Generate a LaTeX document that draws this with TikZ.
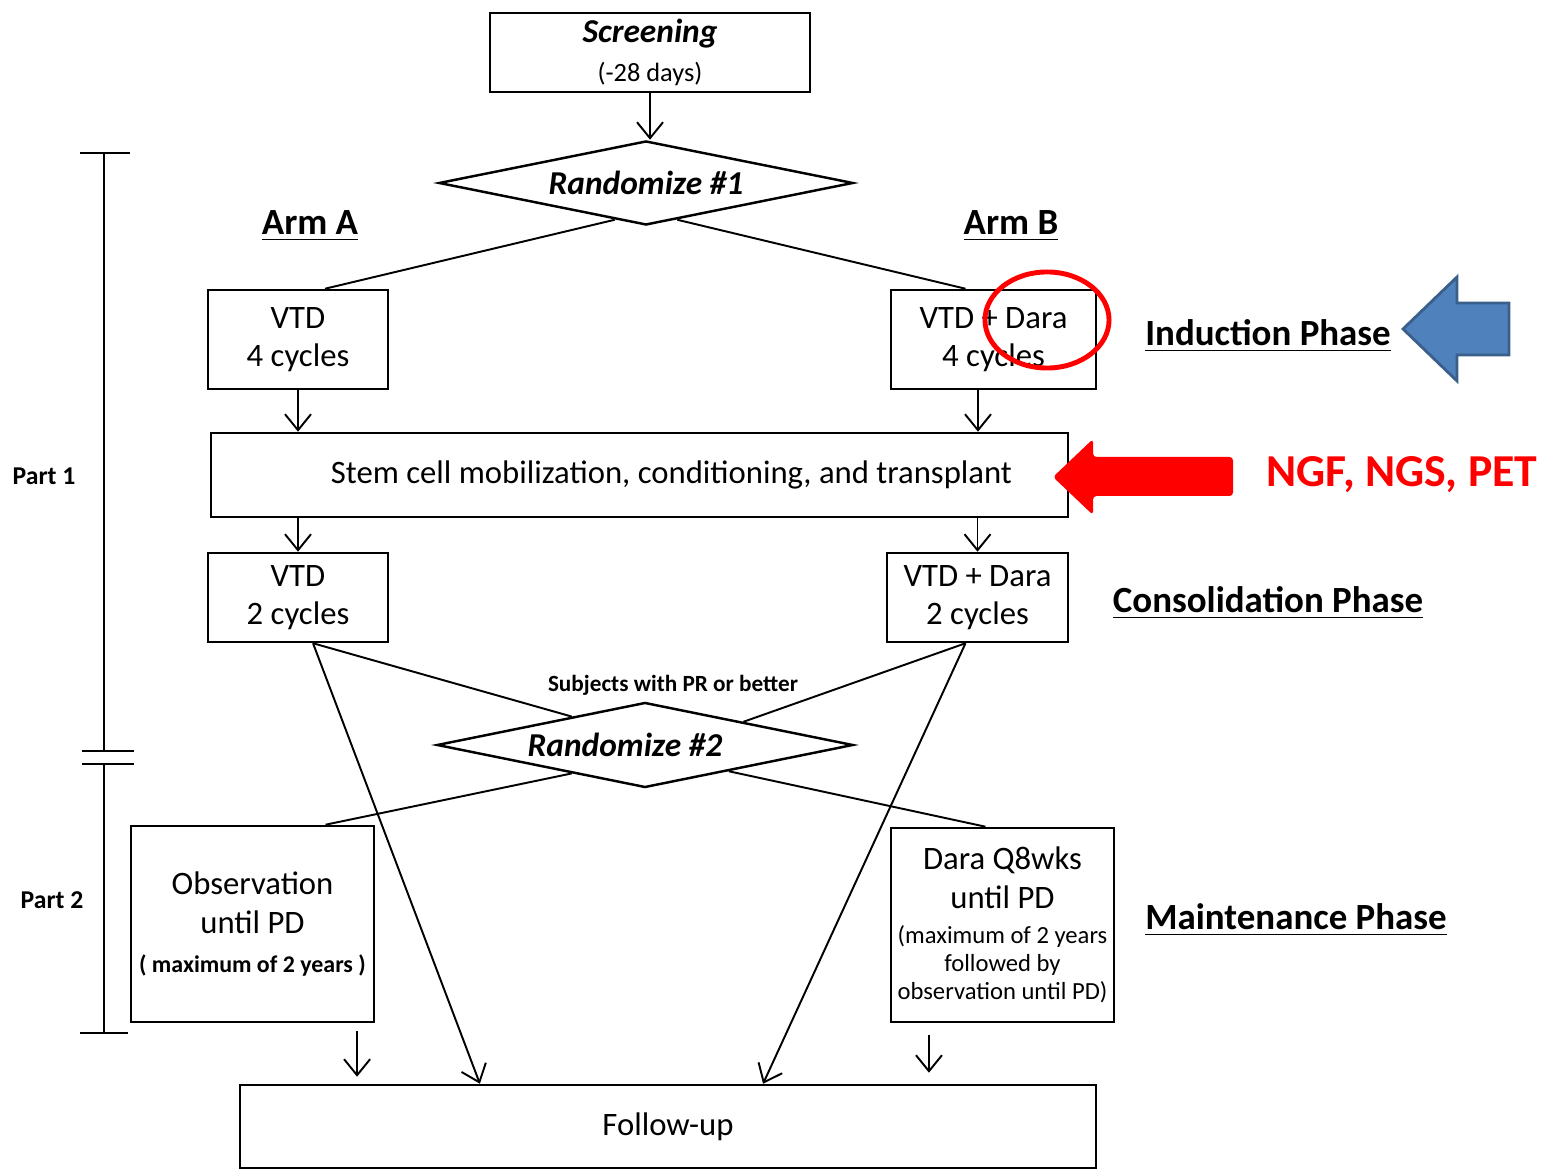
\documentclass[tikz,border=0pt]{standalone}
\usepackage{fontspec}
\setmainfont{Carlito}
\usepackage{xcolor}
\usetikzlibrary{calc,shapes.geometric,arrows.meta}

\definecolor{phaseblue}{HTML}{4F81BD}
\definecolor{phaseblueedge}{HTML}{3A5F8B}
\newcommand\notesize{\fontsize{7}{7.7}\selectfont}

\begin{document}
\begin{tikzpicture}[x=0.01cm, y=-0.01cm,
    every node/.style={inner sep=1.5pt},
    box/.style={draw, line width=0.7pt, align=center, font=\fontsize{9.3}{11}\selectfont},
    rando/.style={diamond, draw, line width=0.7pt, shape aspect=5, inner sep=0pt,
      minimum width=4.14cm, minimum height=0.84cm, font=\bfseries\itshape\fontsize{9.5}{11}\selectfont},
    phase/.style={font=\bfseries\fontsize{10.5}{12}\selectfont},
    part/.style={font=\bfseries\fontsize{7.3}{9}\selectfont},
    flow/.style={line width=0.55pt},
    >={Straight Barb[length=1.6mm,width=2.6mm]}]
  \useasboundingbox (0,0) rectangle (1549,1174);

  % study boxes
  \node[box, minimum width=3.20cm, minimum height=0.79cm] (screen) at (650,52.5)
    {{\bfseries\itshape\fontsize{9.5}{11}\selectfont Screening}\\{\fontsize{7.5}{9}\selectfont (-28 days)}};
  \node[rando] (rand1) at (646,183) {Randomize \#1};
  \node[box, minimum width=1.80cm, minimum height=0.99cm] (indA) at (298,339.5) {VTD\\4 cycles};
  \node[box, minimum width=2.05cm, minimum height=0.99cm] (indB) at (993.5,339.5) {VTD + Dara\\4 cycles};
  \node[box, minimum width=8.57cm, minimum height=0.84cm] (stem) at (639.5,475)
    {\hspace*{0.64cm}Stem cell mobilization, conditioning, and transplant};
  \node[box, minimum width=1.80cm, minimum height=0.89cm] (consA) at (298,597.5) {VTD\\2 cycles};
  \node[box, minimum width=1.81cm, minimum height=0.89cm] (consB) at (977.5,597.5) {VTD + Dara\\2 cycles};
  \node[rando, minimum width=4.16cm, minimum height=0.85cm] (rand2) at (645,745) {Randomize \#2\hspace*{0.4cm}};
  \node[box, minimum width=2.43cm, minimum height=1.96cm] (obs) at (252.5,924)
    {Observation\\until PD\\{\bfseries\fontsize{6.8}{8}\selectfont ( maximum of 2 years )}};
  \node[box, minimum width=2.23cm, minimum height=1.94cm] (maint) at (1002.5,925)
    {Dara Q8wks\\until PD\\[-1pt]{\notesize (maximum of 2 years}\\[-3pt]{\notesize followed by}\\[-3pt]{\notesize observation until PD)}};
  \node[box, minimum width=8.56cm, minimum height=0.83cm] (follow) at (668,1126.5) {Follow-up};

  % labels
  \node[phase] (armA) at (310,226) {\underline{Arm A}};
  \node[phase] (armB) at (1011,226) {\underline{Arm B}};
  \node[phase] (induct) at (1268,336) {\underline{Induction Phase}};
  \node[phase] (consol) at (1268,603) {\underline{Consolidation Phase}};
  \node[phase] (mainph) at (1296,920) {\underline{Maintenance Phase}};
  \node[font=\bfseries\fontsize{6.6}{8}\selectfont] (subj) at (673,685) {Subjects with PR or better};
  \node[part] (part1) at (44,476) {Part 1};
  \node[part] (part2) at (52,900) {Part 2};
  \node[font=\bfseries\fontsize{13}{15}\selectfont, text=red] (tests) at (1402,475) {NGF, NGS, PET};

  % connectors
  \draw[flow,->] (screen.south) -- (screen.south |- rand1.north);
  \draw[flow] ($(rand1.south)!0.15!(rand1.west)$) -- ([xshift=0.27cm]indA.north);
  \draw[flow] ($(rand1.south)!0.15!(rand1.east)$) -- ([xshift=-0.28cm]indB.north);
  \draw[flow,->] (indA.south) -- (indA.south |- stem.north);
  \draw[flow,->] ([xshift=-0.155cm]indB.south) -- ([xshift=-0.155cm]indB.south |- stem.north);
  \draw[flow,->] (stem.south -| consA.north) -- (consA.north);
  \draw[flow,->] (stem.south -| consB.north) -- (consB.north);

  \coordinate (aOut) at ([xshift=0.15cm]consA.south);
  \coordinate (bOut) at ([xshift=-0.12cm]consB.south);
  \draw[flow] (aOut) -- ($(rand2.north)!0.35!(rand2.west)$);
  \draw[flow] (bOut) -- ($(rand2.north)!0.47!(rand2.east)$);
  \draw[flow,->] (aOut) -- ([xshift=-1.88cm]follow.north);
  \draw[flow,->] (bOut) -- ([xshift=0.95cm]follow.north);
  \draw[flow] ($(rand2.south)!0.35!(rand2.west)$) -- ([xshift=0.73cm]obs.north);
  \draw[flow] ($(rand2.south)!0.40!(rand2.east)$) -- ([xshift=-0.17cm]maint.north);
  \draw[flow,->,shorten <=0.08cm,shorten >=0.07cm] ([xshift=1.045cm]obs.south) -- ([xshift=1.045cm]obs.south |- follow.north);
  \draw[flow,->,shorten <=0.12cm,shorten >=0.11cm] ([xshift=-0.735cm]maint.south) -- ([xshift=-0.735cm]maint.south |- follow.north);

  % part bars on the left
  \draw[flow] (80,153) -- (130,153);
  \draw[flow] (104,153) -- (104,751);
  \draw[flow] (82,751) -- (134,751);
  \draw[flow] (82,764) -- (134,764);
  \draw[flow] (104,764) -- (104,1033);
  \draw[flow] (80,1033) -- (128,1033);

  % highlights
  \draw[red, line width=1.4pt] (1047,320) ellipse [x radius=0.62cm, y radius=0.48cm];
  \filldraw[fill=phaseblue, draw=phaseblueedge, line width=0.8pt]
    (1403,329) -- (1457,277) -- (1457,303) -- (1509,303) -- (1509,355) -- (1457,355) -- (1457,381) -- cycle;
  \fill[red, rounded corners=1pt]
    (1053,477) -- (1093,439) -- (1093,457) -- (1233,457) -- (1233,496) -- (1093,496) -- (1093,515) -- cycle;
\end{tikzpicture}
\end{document}
